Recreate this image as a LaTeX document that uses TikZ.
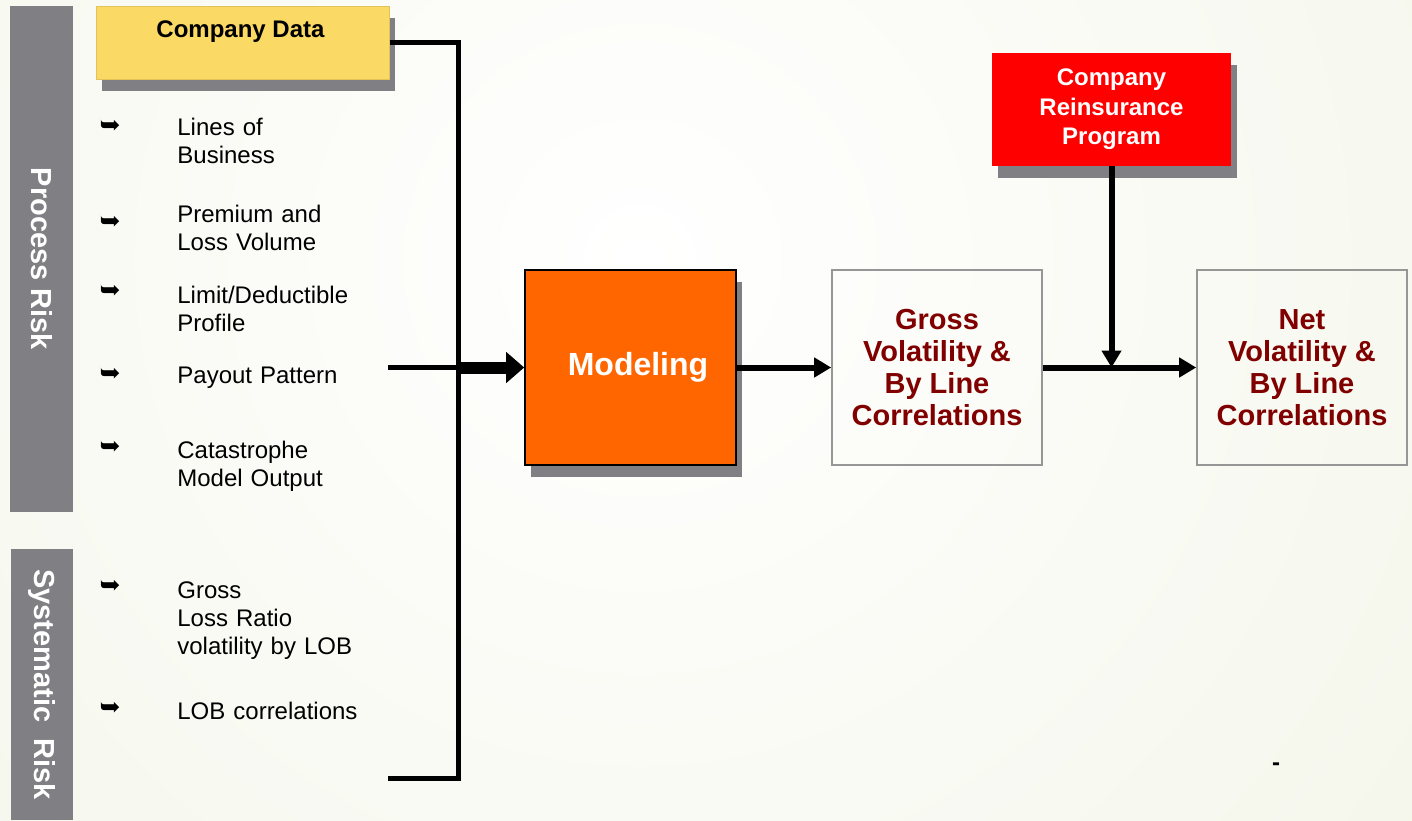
\documentclass[tikz,border=0pt]{standalone}
\usepackage{fontspec}
\setmainfont{Liberation Sans}
\newfontfamily\bulletfont{DejaVu Sans}
\usetikzlibrary{arrows.meta}
\usetikzlibrary{shadows}
\usetikzlibrary{calc}
\usepackage{xcolor}

\definecolor{barGray}{RGB}{128,128,132}
\definecolor{dataYellow}{RGB}{250,217,100}
\definecolor{dataEdge}{RGB}{225,195,90}
\definecolor{modelOrange}{RGB}{255,102,0}
\definecolor{reinsRed}{RGB}{255,0,0}
\definecolor{darkRed}{RGB}{128,0,0}
\definecolor{bgCream}{RGB}{236,239,218}
\definecolor{frameGray}{RGB}{150,150,150}

\tikzset{
  boxshadow/.style={drop shadow={shadow xshift=3pt, shadow yshift=-6pt, fill=barGray, opacity=1}},
  riskbar/.style={fill=barGray, inner sep=0pt, rotate=-90, text=white,
    font=\bfseries\fontsize{14.5}{16}\selectfont},
  valuebox/.style={draw=frameGray, line width=0.8pt, minimum width=105pt, minimum height=97.5pt,
    inner sep=0pt, align=center, text=darkRed, font=\bfseries\fontsize{14.5}{16}\selectfont},
  itemtext/.style={anchor=base west, inner sep=0pt, text width=110pt, align=left,
    font=\fontsize{12}{14}\selectfont},
  bullet/.style={inner sep=0pt, font=\bulletfont\bfseries\fontsize{12.5}{12.5}\selectfont},
  bracket/.style={line width=2.5pt},
  bigarrow/.style={line width=6pt, -{Triangle[length=9pt,width=15pt]}},
  flow/.style={line width=3pt, -{Triangle[length=8.5pt,width=9.5pt]}}
}

\begin{document}
\begin{tikzpicture}[x=0.5pt, y=-0.5pt]

      % Background
      \useasboundingbox (0,0) rectangle (1412,820);
      \fill[bgCream] (0,0) rectangle (1412,820);
      \begin{scope}
        \clip (0,0) rectangle (1412,820);
        \shade[inner color=white, outer color=bgCream] (640,260) circle (1800);
      \end{scope}

      % Risk bars
      \node[riskbar, minimum width=253pt, minimum height=31.5pt] (procrisk) at (41.5,259) {Process Risk};
      \node[riskbar, minimum width=135.5pt, minimum height=31pt] (sysrisk) at (42,684.5) {Systematic\ \ Risk};

      % Company data
      \node[boxshadow, fill=dataYellow, draw=dataEdge, line width=0.5pt,
        minimum width=146.5pt, minimum height=36.5pt] (cdata) at (242.5,42.5) {};
      \node[font=\bfseries\fontsize{12}{14}\selectfont] (cdatalbl) at (240.5,32) {Company Data};

      % Input items
      \foreach \by/\ty/\txt [count=\i] in {
        127/135/{Lines of\\Business},
        223/222/{Premium and\\Loss Volume},
        292/303/{Limit/Deductible\\Profile},
        375/383/{Payout Pattern},
        448/458/{Catastrophe\\Model Output},
        587/598/{Gross\\Loss Ratio\\volatility by LOB},
        709/719/{LOB correlations}}
      {
        \node[bullet] (bul\i) at (110,\by) {➥};
        \node[itemtext] (item\i) at (177,\ty) {\txt};
      }

      % Main boxes
      \node[boxshadow, fill=modelOrange, draw=black, line width=0.8pt, minimum width=105.5pt,
        minimum height=97.5pt, inner sep=0pt, text=white,
        font=\bfseries\fontsize{16}{18}\selectfont] (model) at (630.5,367.5) {\hspace*{7.5pt}Modeling};
      \node[valuebox] (gross) at (937,367.5) {Gross\\Volatility \&\\By Line\\Correlations};
      \node[valuebox] (net) at (1302,367.5) {Net\\Volatility \&\\By Line\\Correlations};
      \node[boxshadow, fill=reinsRed, minimum width=119.5pt, minimum height=56.5pt, inner sep=0pt,
        align=center, text=white, font=\bfseries\fontsize{12}{14.75}\selectfont] (reins) at (1111.5,109.5)
        {Company\\Reinsurance\\Program};

      % Bracket and inputs
      \coordinate (jbot) at (388,778);
      \coordinate (jmid) at (458,367.5);
      \coordinate (pin) at (388,367.5);
      \draw[bracket] (cdata.east) -| (jbot -| jmid) -- (jbot);
      \draw[bracket] (pin) -- (jmid);
      \draw[bigarrow] (jmid) -- (model.west);

      % Flow
      \draw[flow] (model) -- (gross);
      \draw[flow] (gross) -- (net);
      \draw[flow] (reins.south) -- (reins.south |- gross.east);

      \node[font=\bfseries\fontsize{12}{14}\selectfont] (dash) at (1276,767) {-};
  \end{tikzpicture}
\end{document}
